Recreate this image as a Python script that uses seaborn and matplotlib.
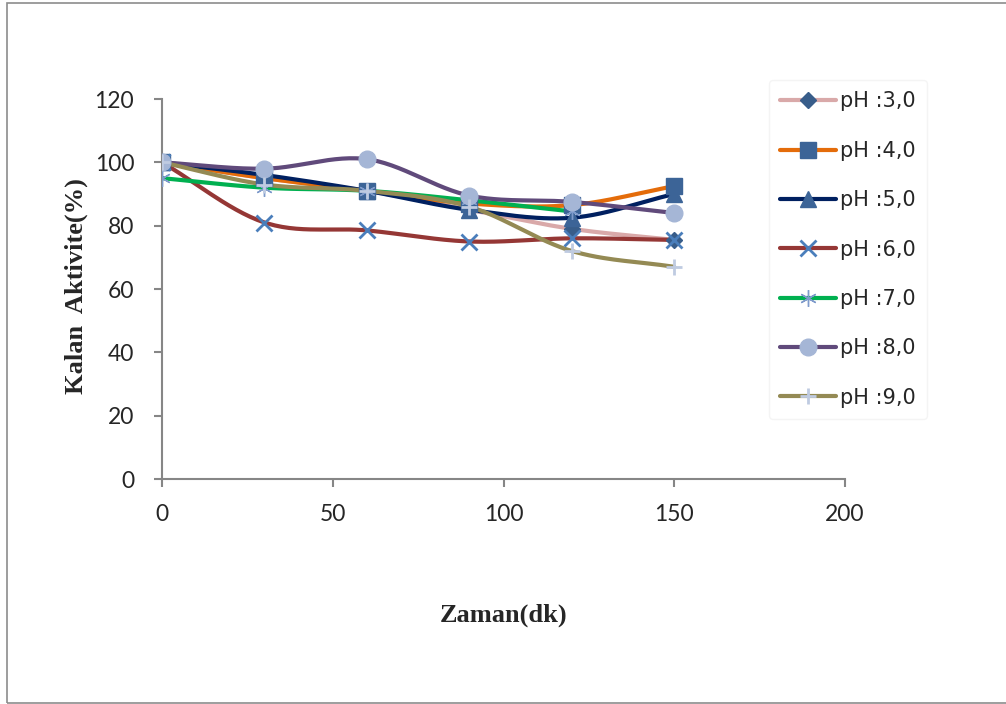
import numpy as np
import pandas as pd
import matplotlib
matplotlib.use("Agg")
import matplotlib.pyplot as plt
import seaborn as sns
from matplotlib.patches import Rectangle
from matplotlib.lines import Line2D

# ---- data ----
time_min = [0, 30, 60, 90, 120, 150]
ph_labels = ["pH :3,0", "pH :4,0", "pH :5,0", "pH :6,0", "pH :7,0", "pH :8,0", "pH :9,0"]
ph3 = [100, 95, 91, 85, 79, 75.5]
ph4 = [100, 95, 91, 87, 86.5, 92.5]
ph5 = [100, 96, 91, 85, 82.5, 90]
ph6 = [100, 81, 78.5, 75, 76, 75.5]
ph7 = [95, 92, 91, 88, 84.5]
ph8 = [100, 98, 101, 89.5, 87.5, 84]
ph9 = [100, 93, 91, 86, 72, 67]
series = [ph3, ph4, ph5, ph6, ph7, ph8, ph9]

line_colors = ["#D9A9A9", "#E46C0A", "#002060", "#953735", "#00B050", "#604A7B", "#948A54"]
markers = ["D", "s", "^", "x", (6, 2, 0), "o", "+"]
marker_colors = ["#385D8A", "#3C6497", "#3C6497", "#4A7EBB", "#7F9BCB", "#A5B6D6", "#BFCBE1"]
marker_sizes = [8, 11, 11, 11, 12, 12, 12]


def smooth(x, y, n=30):
    """Excel-style smoothed curve (Catmull-Rom) through the given points."""
    x = np.asarray(x, float)
    y = np.asarray(y, float)
    if len(x) < 3:
        return x, y
    px = np.concatenate([[2 * x[0] - x[1]], x, [2 * x[-1] - x[-2]]])
    py = np.concatenate([[2 * y[0] - y[1]], y, [2 * y[-1] - y[-2]]])
    xs, ys = [], []
    t = np.linspace(0, 1, n)
    for i in range(1, len(px) - 2):
        for arr, out in ((px, xs), (py, ys)):
            p0, p1, p2, p3 = arr[i - 1], arr[i], arr[i + 1], arr[i + 2]
            seg = 0.5 * ((2 * p1) + (-p0 + p2) * t + (2 * p0 - 5 * p1 + 4 * p2 - p3) * t ** 2
                         + (-p0 + 3 * p1 - 3 * p2 + p3) * t ** 3)
            out.append(seg if i == 1 else seg[1:])
    return np.concatenate(xs), np.concatenate(ys)


sns.set_theme(style="white")
plt.rcParams["font.family"] = ["DejaVu Sans"]

fig = plt.figure(figsize=(10.06, 7.04), dpi=100)
fig.patches.append(Rectangle((7 / 1006, 1 / 704), 1.2, 700 / 704, transform=fig.transFigure,
                             fill=False, edgecolor="#8C8C8C", linewidth=1.2, figure=fig))
ax = fig.add_axes([162 / 1006, 1 - 479 / 704, (845 - 162) / 1006, (479 - 99) / 704])

for lab, vals, lc, mk, mc, ms in zip(ph_labels, series, line_colors, markers, marker_colors, marker_sizes):
    xs = time_min[:len(vals)]
    sx, sy = smooth(xs, vals)
    sm = pd.DataFrame({"t": sx, "v": sy})
    sns.lineplot(data=sm, x="t", y="v", ax=ax, color=lc, linewidth=3, sort=False,
                 estimator=None, zorder=2)
    pts = pd.DataFrame({"t": xs, "v": vals})
    sns.lineplot(data=pts, x="t", y="v", ax=ax, linestyle="none", marker=mk,
                 markersize=ms, markerfacecolor=mc, markeredgecolor=mc,
                 markeredgewidth=2 if mk in ("x", "+") else 1, color=mc,
                 estimator=None, zorder=3)

handles = [Line2D([0], [0], color=lc, linewidth=3, marker=mk, markersize=ms,
                  markerfacecolor=mc, markeredgecolor=mc,
                  markeredgewidth=2 if mk in ("x", "+") else 1)
           for lc, mk, mc, ms in zip(line_colors, markers, marker_colors, marker_sizes)]
leg = fig.legend(handles, ph_labels, loc="upper left", bbox_to_anchor=(769 / 1006, 1 - 80 / 704),
                 fontsize=15, frameon=True, fancybox=True, shadow=False, handlelength=2.65,
                 labelspacing=1.41, borderpad=0.55, handletextpad=0.2, borderaxespad=0)
leg.get_frame().set_edgecolor("#F2F2F2")
leg.get_frame().set_linewidth(1.0)

ax.set_xlim(0, 200)
ax.set_ylim(0, 120)
ax.set_xticks([0, 50, 100, 150, 200])
ax.set_yticks([0, 20, 40, 60, 80, 100, 120])
for sp in ("top", "right"):
    ax.spines[sp].set_visible(False)
for sp in ("left", "bottom"):
    ax.spines[sp].set_color("#868686")
    ax.spines[sp].set_linewidth(1.5)
ax.tick_params(axis="both", which="both", direction="out", length=6, width=1.5,
               color="#868686", labelsize=16.5, bottom=True, left=True)
ax.tick_params(axis="y", pad=14)
ax.tick_params(axis="x", pad=12)
for t in ax.get_xticklabels() + ax.get_yticklabels():
    t.set_fontfamily("Lato")
ax.set_xlabel("")
ax.set_ylabel("")
fig.text(76 / 1006, 1 - 286 / 704, "Kalan  Aktivite(%)", rotation=90, ha="center", va="center",
         fontsize=19, fontweight="bold", family="Liberation Serif")
fig.text(504 / 1006, 1 - 615 / 704, "Zaman(dk)", ha="center", va="center",
         fontsize=19, fontweight="bold", family="Liberation Serif")

fig.savefig("out.png", dpi=100)
